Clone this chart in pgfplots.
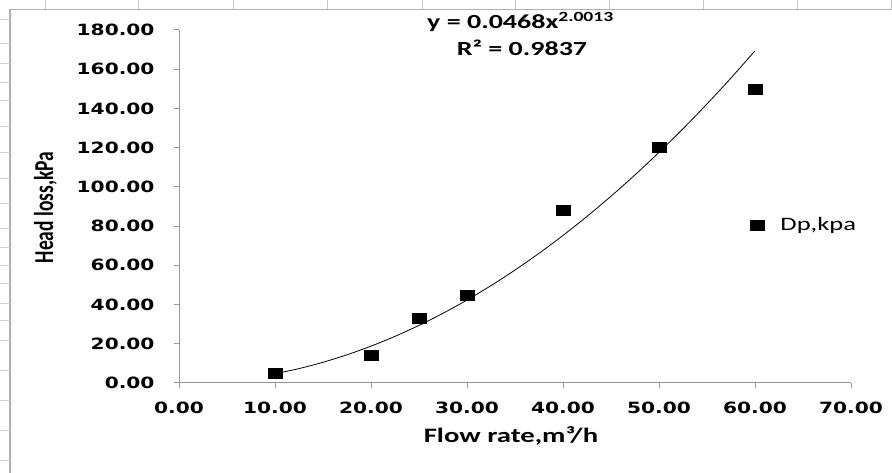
\documentclass[border=0pt]{standalone}
\usepackage{pgfplots}
\pgfplotsset{compat=1.18}
\usepackage{fontspec}
\setmainfont{Carlito}
\newfontfamily\tickfont{DejaVu Sans}[FakeStretch=1.3]
\newfontfamily\labfont{Carlito}[FakeStretch=1.4]
\definecolor{axgray}{RGB}{150,150,150}
\definecolor{framegray}{RGB}{175,175,175}
\begin{document}
\begin{tikzpicture}[x=1pt,y=1pt]
\path[use as bounding box] (0,0) rectangle (892,473);
\draw[framegray, line width=1.2pt] (10,0) -- (10,463.5) -- (892,463.5);
\foreach \x in {45,138,233,327,422,515,609,703,797,891} \draw[framegray!70] (\x,463.5)--(\x,473);
\foreach \y in {19,43,63,82,100,126,152,178,203,228,247,265,283,303,320,340,370,400,430,460} \draw[framegray!60] (0,473-\y)--(10,473-\y);
\begin{axis}[
  at={(179pt,90pt)}, anchor=south west,
  scale only axis, width=672pt, height=353pt,
  xmin=0, xmax=70, ymin=0, ymax=180,
  xtick={0,10,...,70}, ytick={0,20,...,180},
  axis x line=bottom, axis y line=left,
  axis line style={axgray, line width=1pt, -},
  tick style={axgray, line width=1pt},
  tick align=outside, major tick length=5pt,
  clip=false,
  /pgf/number format/fixed, /pgf/number format/fixed zerofill,
  /pgf/number format/precision=2, /pgf/number format/assume math mode=true,
  ticklabel style={font=\tickfont\bfseries\fontsize{15.5}{18}\selectfont, text=black},
  xticklabel style={yshift=-10pt},
  yticklabel style={xshift=-16pt},
  legend style={draw=none, fill=none, at={(axis cs:59.5,80.6)}, anchor=west, inner sep=0pt,
    font=\labfont\fontsize{19}{22}\selectfont,
    /tikz/every odd column/.append style={column sep=14pt}},
]
\addplot[black, line width=0.8pt, smooth, forget plot] coordinates {
(10,4.694)(12.5,7.336)(15,10.567)(17.5,14.386)(20,18.793)(22.5,23.788)(25,29.372)
(27.5,35.545)(30,42.306)(32.5,49.656)(35,57.595)(37.5,66.123)(40,75.239)(42.5,84.945)
(45,95.239)(47.5,106.122)(50,117.595)(52.5,129.657)(55,142.307)(57.5,155.547)(60,169.377)};
\addplot[only marks, mark=square*, mark size=5pt, mark options={xscale=1.4, black, fill=black}] coordinates {
(10,5)(20,14)(25,33)(30,45)(40,88)(50,120)(60,150)};
\addlegendentry{Dp,kpa}
\end{axis}
\node[inner sep=0pt, anchor=base, font=\labfont\bfseries\fontsize{20.5}{24}\selectfont] at (511,30) {Flow rate,m³/h};
\node[inner sep=0pt, anchor=base, rotate=90, font=\bfseries\fontsize{19.5}{24}\selectfont] at (53,265.5) {\scalebox{1}[1.4]{Head loss,kPa}};
\node[inner sep=0pt, font=\labfont\bfseries\fontsize{20}{24}\selectfont] at (520.5,451) {y = 0.0468x\textsuperscript{2.0013}};
\node[inner sep=0pt, font=\labfont\bfseries\fontsize{20}{24}\selectfont] at (522,425) {R² = 0.9837};
\end{tikzpicture}
\end{document}
